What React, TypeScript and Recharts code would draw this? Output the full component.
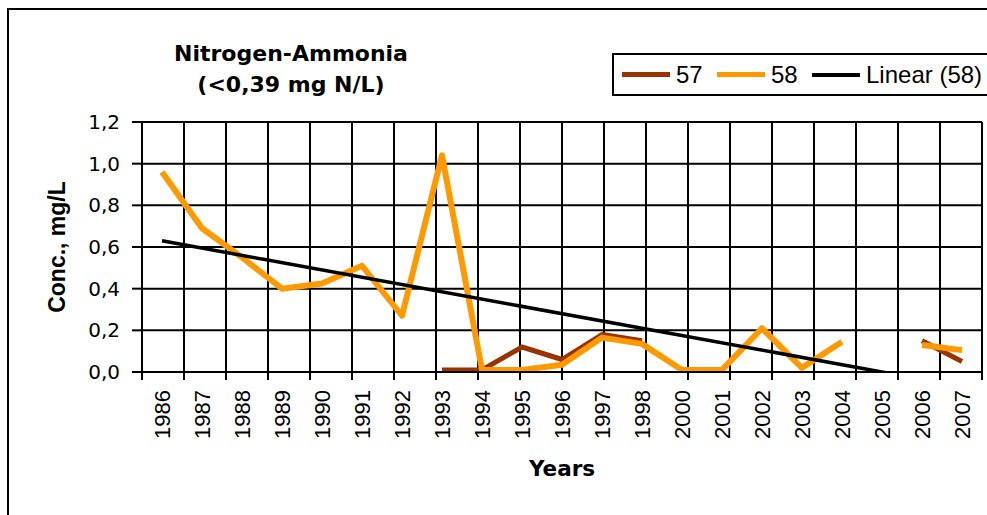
import { LineChart, Line, XAxis, YAxis, CartesianGrid } from 'recharts';

// Sampling years (1999 is missing in the source table)
const years = [
  '1986', '1987', '1988', '1989', '1990', '1991', '1992', '1993', '1994', '1995', '1996',
  '1997', '1998', '2000', '2001', '2002', '2003', '2004', '2005', '2006', '2007',
];

// Station 57, mg/L
const conc57 = [
  null, null, null, null, null, null, null, 0.01, 0.01, 0.12, 0.06,
  0.18, 0.15, null, null, null, null, null, null, 0.15, 0.05,
];

// Station 58, mg/L
const conc58 = [
  0.96, 0.69, 0.55, 0.4, 0.425, 0.51, 0.27, 1.04, 0.01, 0.01, 0.035,
  0.165, 0.135, 0.01, 0.01, 0.21, 0.02, 0.145, null, 0.13, 0.105,
];

// Linear trend of station 58, read at its two ends
const trend58 = [
  0.63, null, null, null, null, null, null, null, null, null, null,
  null, null, null, null, null, null, null, null, null, -0.07,
];

const yTicks = [0, 0.2, 0.4, 0.6, 0.8, 1.0, 1.2];
// category borders for the grid and the small tick marks
const borderTicks = Array.from({ length: years.length + 1 }, (_, i) => i);

const legendItems = [
  { name: '57', color: '#993300', width: 5 },
  { name: '58', color: '#FF9900', width: 5 },
  { name: 'Linear (58)', color: '#000000', width: 4 },
];

const YearTick = (props: any) => {
  const { x, y, payload } = props;
  return (
    <text
      x={x}
      y={y}
      transform={`rotate(-90 ${x} ${y})`}
      textAnchor="end"
      dy="0.35em"
      fontFamily="'Liberation Sans', Arial, sans-serif"
      fontSize={22}
      fill="#000"
    >
      {payload.value}
    </text>
  );
};

const NoLabel = () => null;

export default function App() {
  const data = years.map((year, i) => ({
    year,
    s57: conc57[i],
    s58: conc58[i],
    trend: trend58[i],
  }));

  return (
    <div
      style={{
        position: 'fixed',
        left: 7,
        top: 8,
        width: 980,
        height: 507,
        borderTop: '2px solid #000',
        borderLeft: '2px solid #000',
        boxSizing: 'border-box',
        overflow: 'hidden',
        background: '#fff',
        zIndex: 10,
      }}
    >
      <div
        style={{
          position: 'absolute',
          left: 132,
          top: 28,
          width: 300,
          textAlign: 'center',
          fontFamily: "'DejaVu Sans', sans-serif",
          fontWeight: 'bold',
          fontSize: 22,
          lineHeight: '31px',
          color: '#000',
        }}
      >
        Nitrogen-Ammonia
        <br />
        (&lt;0,39 mg N/L)
      </div>

      <div
        style={{
          position: 'absolute',
          left: 603,
          top: 43,
          width: 420,
          height: 43,
          border: '2px solid #000',
          boxSizing: 'border-box',
          display: 'flex',
          alignItems: 'center',
          paddingLeft: 8,
          fontFamily: "'Liberation Sans', Arial, sans-serif",
          fontSize: 24,
          color: '#000',
          zIndex: 2,
          background: '#fff',
        }}
      >
        {legendItems.map((item) => (
          <div
            key={item.name}
            style={{ display: 'flex', alignItems: 'center', minWidth: 95, flex: 'none', whiteSpace: 'nowrap' }}
          >
            <span
              style={{
                display: 'inline-block',
                flex: 'none',
                width: 48,
                height: item.width,
                background: item.color,
                marginRight: 6,
              }}
            />
            <span>{item.name}</span>
          </div>
        ))}
      </div>

      <LineChart width={978} height={505} data={data} margin={{ top: 112, right: 5, bottom: 33, left: 0 }}>
        <CartesianGrid xAxisId="a" stroke="#000" strokeWidth={2} />
        <XAxis
          xAxisId="a"
          type="number"
          domain={[0, years.length]}
          ticks={borderTicks}
          allowDataOverflow
          interval={0}
          height={1}
          tick={<NoLabel />}
          tickFormatter={() => ''}
          tickSize={8}
          axisLine={{ stroke: '#000', strokeWidth: 2 }}
          tickLine={{ stroke: '#000', strokeWidth: 2 }}
        />
        <XAxis
          xAxisId="b"
          dataKey="year"
          padding={{ left: 20, right: 20 }}
          height={109}
          interval={0}
          tickSize={0}
          tickMargin={17}
          axisLine={false}
          tickLine={false}
          tick={<YearTick />}
          label={{
            value: 'Years',
            position: 'insideBottom',
            offset: 6,
            style: { fontFamily: "'DejaVu Sans', sans-serif", fontWeight: 'bold', fontSize: 21.5, fill: '#000' },
          }}
        />
        <YAxis
          width={133}
          domain={[0, 1.2]}
          ticks={yTicks}
          allowDataOverflow
          tickSize={10}
          tickMargin={12}
          tickFormatter={(v: number) => v.toFixed(1).replace('.', ',')}
          tick={{ fill: '#000', fontSize: 20, fontFamily: "'DejaVu Sans', sans-serif" }}
          axisLine={{ stroke: '#000', strokeWidth: 2 }}
          tickLine={{ stroke: '#000', strokeWidth: 2 }}
          label={{
            value: 'Conc., mg/L',
            angle: -90,
            position: 'insideLeft',
            offset: 48,
            style: {
              textAnchor: 'middle',
              fontFamily: "'Liberation Sans', Arial, sans-serif",
              fontWeight: 'bold',
              fontSize: 23,
              fill: '#000',
            },
          }}
        />
        <Line
          xAxisId="b"
          dataKey="s57"
          name="57"
          stroke="#993300"
          strokeWidth={5}
          strokeLinejoin="round"
          dot={false}
          activeDot={false}
          isAnimationActive={false}
        />
        <Line
          xAxisId="b"
          dataKey="s58"
          name="58"
          stroke="#FF9900"
          strokeWidth={6}
          strokeLinejoin="round"
          dot={false}
          activeDot={false}
          isAnimationActive={false}
        />
        <Line
          xAxisId="b"
          dataKey="trend"
          name="Linear (58)"
          stroke="#000"
          strokeWidth={3.5}
          connectNulls
          dot={false}
          activeDot={false}
          isAnimationActive={false}
        />
      </LineChart>
    </div>
  );
}
